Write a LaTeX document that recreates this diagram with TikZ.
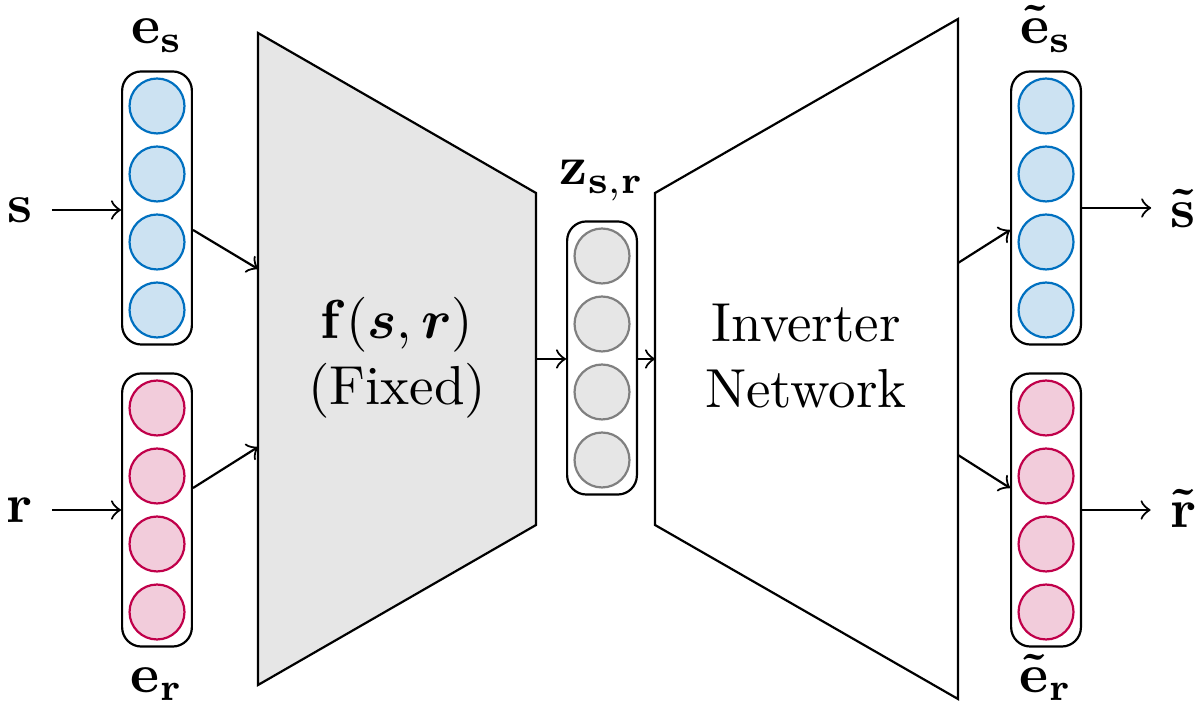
\documentclass[tikz,border=0pt]{standalone}
\usepackage{amsmath, amssymb, amsfonts}
\usepackage{xcolor}
\usepackage{tikz}
\definecolor{embblue}{HTML}{0070C0}
\definecolor{embred}{HTML}{C0004A}
\definecolor{latgray}{HTML}{E6E6E6}

\begin{document}
\begin{tikzpicture}[x=0.182pt, y=-0.182pt,
        vecbox/.style={draw, rounded corners=3.5pt, minimum width=12.7pt, minimum height=49.7pt, inner sep=0pt},
        unit/.style={circle, draw, minimum size=10pt, inner sep=0pt},
        sunit/.style={unit, draw=embblue, fill=embblue!20},
        runit/.style={unit, draw=embred, fill=embred!20},
        zunit/.style={unit, draw=gray, fill=latgray}]
                \useasboundingbox (0,0) rectangle (1202,719);

                % Encodeur fixe et reseau inverseur
                \filldraw[fill=latgray] (258,33) -- (536,193) -- (536,525) -- (258,685) -- cycle;
                \draw (655,193) -- (958,19) -- (958,699) -- (655,525) -- cycle;
                \node[align=center] (fenc) at (397,358) {$\mathbf{f}(\boldsymbol{s},\boldsymbol{r})$\\(Fixed)};
                \node[align=center] (inv) at (806,356) {Inverter\\Network};
                \coordinate (encInS) at (258,269);
                \coordinate (encInR) at (258,447);
                \coordinate (encOut) at (536,359);
                \coordinate (invIn) at (655,359);
                \coordinate (invOutS) at (958,263);
                \coordinate (invOutR) at (958,455);

                % Vecteurs (plongements et code latent)
                \node[vecbox] (embS) at (157,208) {};
                \node[vecbox] (embR) at (157,510) {};
                \node[vecbox] (latent) at (602,358) {};
                \node[vecbox] (recS) at (1046,208) {};
                \node[vecbox] (recR) at (1046,510) {};
                \foreach \i/\dy in {1/-102,2/-34,3/34,4/102} {
                    \node[sunit] (embS-\i) at (157,{208+\dy}) {};
                    \node[runit] (embR-\i) at (157,{510+\dy}) {};
                    \node[zunit] (latent-\i) at (602,{358+\dy}) {};
                    \node[sunit] (recS-\i) at (1046,{208+\dy}) {};
                    \node[runit] (recR-\i) at (1046,{510+\dy}) {};
                }

                % Etiquettes
                \node[anchor=base] (lblEmbS) at (157,44) {$\mathbf{e}_{\mathbf{s}}$};
                \node[anchor=base] (lblEmbR) at (157,692) {$\mathbf{e}_{\mathbf{r}}$};
                \node[anchor=base] (lblLatent) at (602,185) {$\mathbf{z}_{\mathbf{s},\mathbf{r}}$};
                \node[anchor=base] (lblRecS) at (1046,44) {$\mathbf{\tilde{e}}_{\mathbf{s}}$};
                \node[anchor=base] (lblRecR) at (1046,692) {$\mathbf{\tilde{e}}_{\mathbf{r}}$};
                \node (s) at (20,210) {$\mathbf{s}$};
                \node (r) at (20,510) {$\mathbf{r}$};
                \node[anchor=base] (sOut) at (1183,228) {$\mathbf{\tilde{s}}$};
                \node[anchor=base] (rOut) at (1183,528) {$\mathbf{\tilde{r}}$};

                % Fleches
                \draw[->] (s) -- (s -| embS.west);
                \draw[->] (r) -- (r -| embR.west);
                \draw[->] ([yshift=-4pt]embS.east) -- (encInS);
                \draw[->] ([yshift=4pt]embR.east) -- (encInR);
                \draw[->] (encOut) -- (encOut -| latent.west);
                \draw[->] (encOut -| latent.east) -- (invIn);
                \draw[->] (invOutS) -- ([yshift=-4pt]recS.west);
                \draw[->] (invOutR) -- ([yshift=4pt]recR.west);
                \draw[->] (recS.east) -- (sOut.west |- recS.east);
                \draw[->] (recR.east) -- (rOut.west |- recR.east);
            \end{tikzpicture}
\end{document}
